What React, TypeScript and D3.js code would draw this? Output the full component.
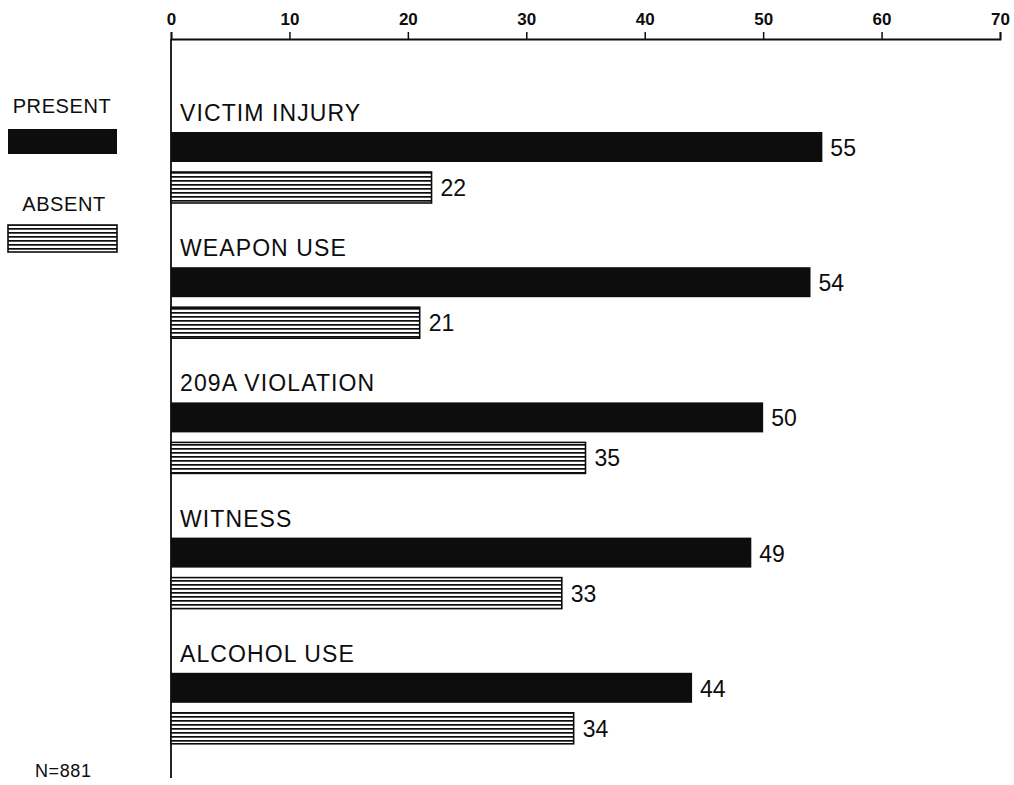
import React, { useEffect, useRef } from 'react';
import * as d3 from 'd3';

// values (percent)
const categories = ['VICTIM INJURY', 'WEAPON USE', '209A VIOLATION', 'WITNESS', 'ALCOHOL USE'];
const present = [55, 54, 50, 49, 44];
const absent = [22, 21, 35, 33, 34];
const xTicks = [0, 10, 20, 30, 40, 50, 60, 70];
const note = 'N=881';

const W = 1014;
const H = 785;
const FONT = '"Liberation Sans", Arial, Helvetica, sans-serif';
const INK = '#0d0d0d';

const App: React.FC = () => {
  const svgRef = useRef<SVGSVGElement | null>(null);

  useEffect(() => {
    if (!svgRef.current) return;
    const svg = d3.select(svgRef.current);
    svg.selectAll('*').remove();

    const axisY = 39;
    const x = d3.scaleLinear().domain([0, 70]).range([171, 1000]);
    const y = d3.scaleBand<string>().domain(categories).range([100, 776]).padding(0);

    // horizontal-line hatch for the "absent" bars
    const defs = svg.append('defs');
    const pat = defs
      .append('pattern')
      .attr('id', 'hlines')
      .attr('patternUnits', 'userSpaceOnUse')
      .attr('width', 8)
      .attr('height', 4);
    pat.append('rect').attr('width', 8).attr('height', 4).attr('fill', '#fff');
    pat.append('rect').attr('y', 0).attr('width', 8).attr('height', 1.7).attr('fill', INK);

    // top axis
    const axis = svg
      .append('g')
      .attr('transform', `translate(0,${axisY})`)
      .call(
        d3
          .axisTop(x)
          .tickValues(xTicks)
          .tickSizeInner(7)
          .tickSizeOuter(7)
          .tickPadding(7)
      );
    axis.select('.domain').attr('stroke', INK).attr('stroke-width', 1.8);
    axis.selectAll('.tick line').attr('stroke', INK).attr('stroke-width', 1.5);
    axis
      .selectAll('.tick text')
      .attr('font-family', FONT)
      .attr('font-size', 17)
      .attr('font-weight', 'bold')
      .attr('fill', INK);

    // vertical axis
    svg
      .append('line')
      .attr('x1', x(0))
      .attr('x2', x(0))
      .attr('y1', axisY)
      .attr('y2', 778)
      .attr('stroke', INK)
      .attr('stroke-width', 1.8);

    const g = svg.append('g');
    categories.forEach((cat, i) => {
      const y0 = y(cat)!;
      g.append('text')
        .attr('x', 180)
        .attr('y', y0 + 21)
        .attr('font-family', FONT)
        .attr('font-size', 23)
        .attr('letter-spacing', 1.1)
        .attr('fill', INK)
        .text(cat);

      g.append('rect')
        .attr('x', x(0))
        .attr('y', y0 + 32)
        .attr('width', x(present[i]) - x(0))
        .attr('height', 30)
        .attr('fill', INK);
      g.append('text')
        .attr('x', x(present[i]) + 8)
        .attr('y', y0 + 56)
        .attr('font-family', FONT)
        .attr('font-size', 23)
        .attr('fill', INK)
        .text(present[i]);

      g.append('rect')
        .attr('x', x(0))
        .attr('y', y0 + 72)
        .attr('width', x(absent[i]) - x(0))
        .attr('height', 31)
        .attr('fill', 'url(#hlines)')
        .attr('stroke', INK)
        .attr('stroke-width', 1.6);
      g.append('text')
        .attr('x', x(absent[i]) + 9)
        .attr('y', y0 + 96)
        .attr('font-family', FONT)
        .attr('font-size', 23)
        .attr('fill', INK)
        .text(absent[i]);
    });

    // legend
    const lg = svg.append('g');
    lg.append('text')
      .attr('x', 62)
      .attr('y', 113)
      .attr('text-anchor', 'middle')
      .attr('font-family', FONT)
      .attr('font-size', 20)
      .attr('letter-spacing', 0.6)
      .attr('fill', INK)
      .text('PRESENT');
    lg.append('rect').attr('x', 8).attr('y', 129).attr('width', 109).attr('height', 25).attr('fill', INK);
    lg.append('text')
      .attr('x', 64)
      .attr('y', 211)
      .attr('text-anchor', 'middle')
      .attr('font-family', FONT)
      .attr('font-size', 20)
      .attr('letter-spacing', 0.6)
      .attr('fill', INK)
      .text('ABSENT');
    lg.append('rect')
      .attr('x', 8)
      .attr('y', 225)
      .attr('width', 109)
      .attr('height', 27)
      .attr('fill', 'url(#hlines)')
      .attr('stroke', INK)
      .attr('stroke-width', 1.6);

    svg
      .append('text')
      .attr('x', 35)
      .attr('y', 777)
      .attr('font-family', FONT)
      .attr('font-size', 18)
      .attr('letter-spacing', 0.6)
      .attr('fill', INK)
      .text(note);
  }, []);

  return (
    <svg
      ref={svgRef}
      width={W}
      height={H}
      style={{ display: 'block', position: 'absolute', left: 0, top: 0, background: '#fff' }}
    />
  );
};

export default App;
